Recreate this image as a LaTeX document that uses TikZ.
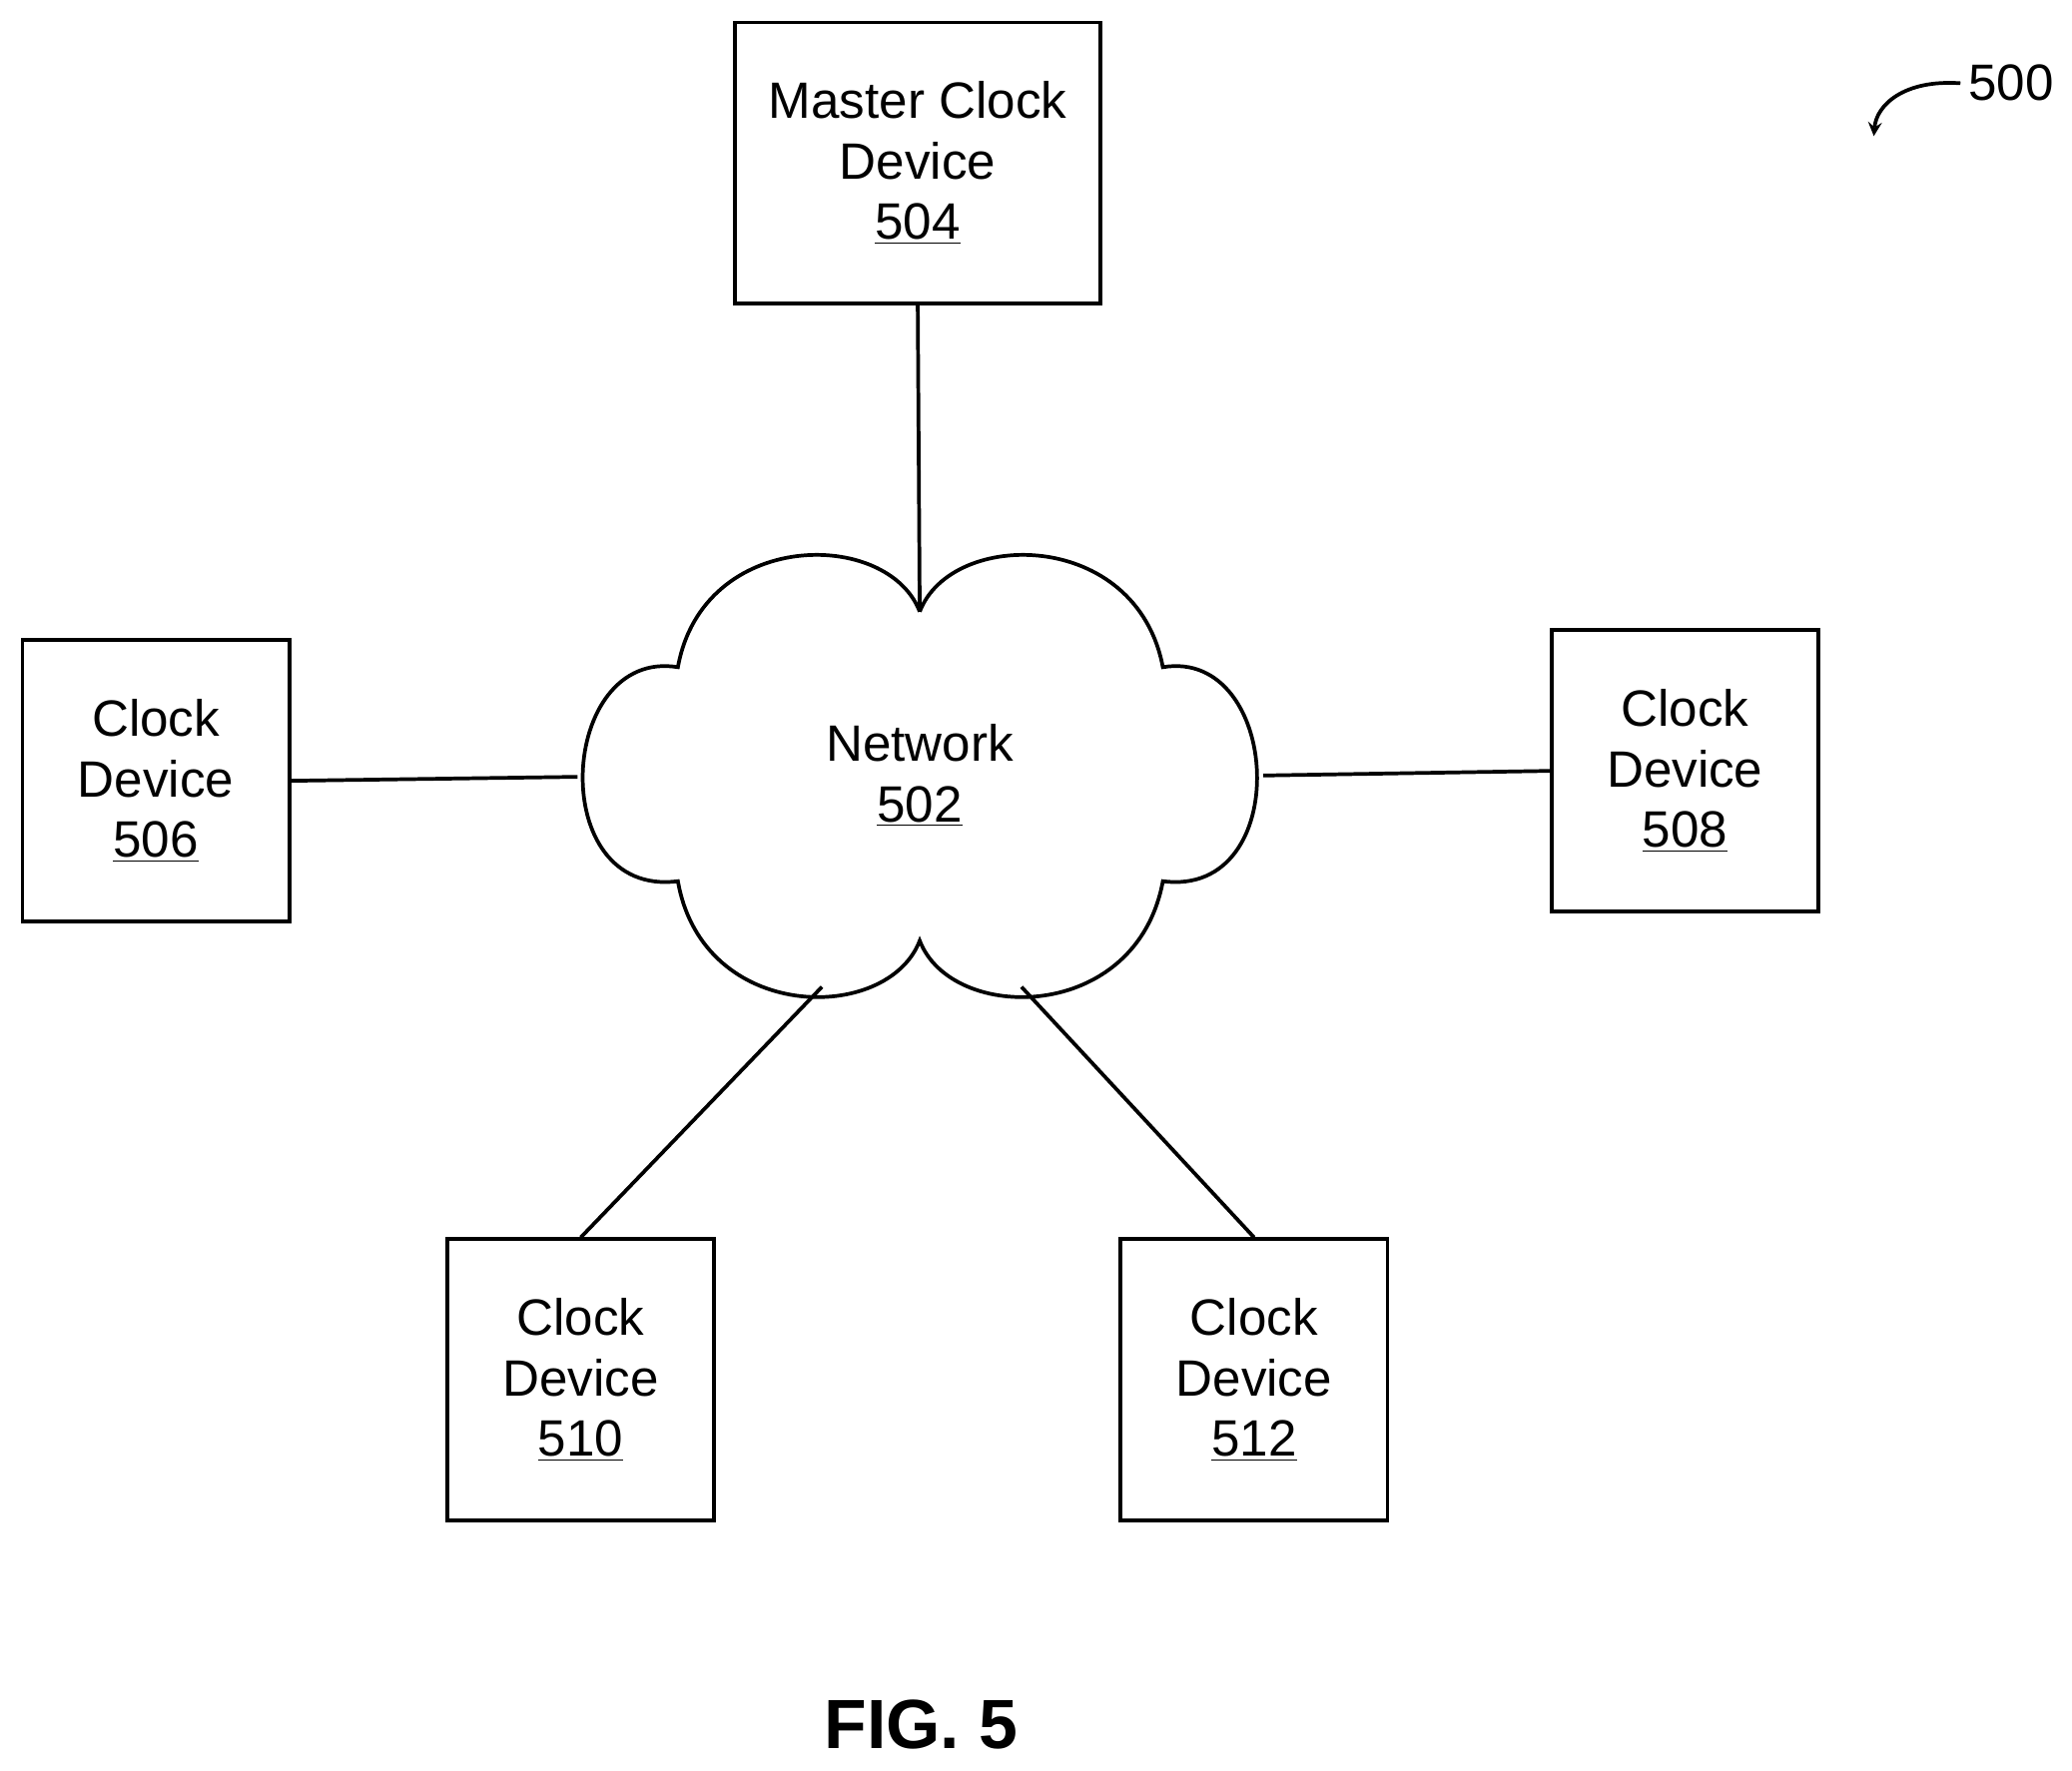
\documentclass[tikz,border=0pt]{standalone}
\usepackage{fontspec}
\setmainfont{Liberation Sans}
\usetikzlibrary{positioning}

\tikzset{
	dev/.style={draw, line width=1.6pt, minimum width=4.04cm, minimum height=4.26cm, align=center, font=\fontsize{22}{26}\selectfont},
	link/.style={line width=1.6pt}
}

\begin{document}
\begin{tikzpicture}[x=0.02cm, y=-0.02cm]
	\useasboundingbox (0,0) rectangle (1568,1340);

	% cloud
	\draw[link] (696,463) .. controls (720,400) and (860,400) .. (880,505)
		.. controls (970,490) and (980,680) .. (880,667)
		.. controls (860,775) and (720,775) .. (696,712)
		.. controls (672,775) and (532,775) .. (513,667)
		.. controls (412,680) and (422,490) .. (513,505)
		.. controls (532,400) and (672,400) .. (696,463);
	\node[align=center, font=\fontsize{22}{26}\selectfont] (net) at (696,587) {Network\\\underline{502}};

	\coordinate (nt) at (696,463);
	\coordinate (nl) at (437,588);
	\coordinate (nr) at (956,587);
	\coordinate (nbl) at (622,747);
	\coordinate (nbr) at (773,747);

	\node[dev, minimum width=5.54cm] (master) at (694.5,123.5) {Master Clock\\Device\\\underline{504}};
	\node[dev] (d506) at (118,591) {Clock\\Device\\\underline{506}};
	\node[dev] (d508) at (1275,583.5) {Clock\\Device\\\underline{508}};
	\node[dev] (d510) at (439.5,1044.5) {Clock\\Device\\\underline{510}};
	\node[dev] (d512) at (949,1044.5) {Clock\\Device\\\underline{512}};

	\draw[link] (master.south) -- (nt);
	\draw[link] (d506.east) -- (nl);
	\draw[link] (d508.west) -- (nr);
	\draw[link] (d510.north) -- (nbl);
	\draw[link] (d512.north) -- (nbr);

	\node[font=\fontsize{22}{26}\selectfont] (ref) at (1522,63) {500};
	\coordinate (tip) at (1418,103);
	\draw[link, ->, >=stealth] (ref.west) .. controls (1440,60) and (1420,80) .. (tip);

	\node[font=\bfseries\fontsize{30}{36}\selectfont] (fig) at (697,1305) {FIG. 5};
\end{tikzpicture}
\end{document}
